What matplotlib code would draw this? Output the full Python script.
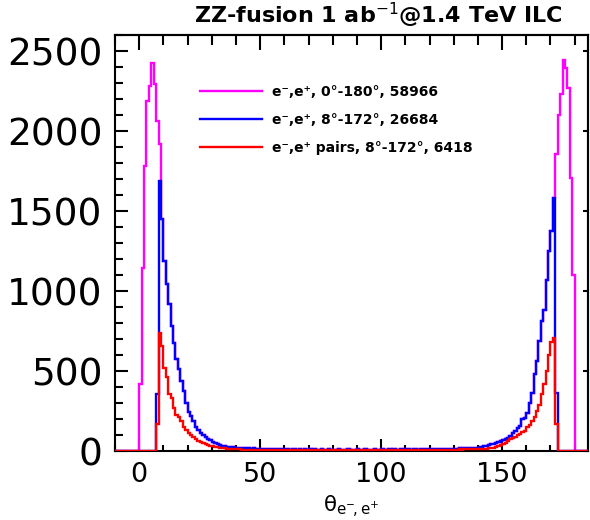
import numpy as np
import matplotlib
matplotlib.use("Agg")
import matplotlib.pyplot as plt
from matplotlib.ticker import MultipleLocator, NullLocator
from matplotlib.lines import Line2D

# ---------------- data (1 degree bins, 0..180 deg) ----------------
bin_width = 1.0
theta_min, theta_max = 0, 180
pad_bins = 10          # empty bins drawn outside 0-180 (baseline of histograms)

# e-,e+ 0-180 deg: forward/backward peaks (bins 0-8 and 172-179); elsewhere equal to the 8-172 sample
magenta_left = [419, 1144, 1781, 2187, 2281, 2427, 2294, 2062, 1919]
magenta_right = [1858, 2100, 2231, 2444, 2396, 2271, 1708, 1100]

# e-,e+ 8-172 deg, bins 7..40
blue_rise = [356, 1687, 1448, 1187, 1042, 917, 781, 677, 573, 510, 440, 375, 300,
             245, 218, 188, 152, 132, 114, 102, 88, 75, 67, 58, 48, 42, 37, 33,
             30, 28, 25, 23, 21, 20]
# bins 41..139
blue_mid = [19, 18, 17, 18, 16, 15, 16, 14, 15, 13,
            14, 12, 13, 12, 11, 12, 10, 11, 12, 10,
            11, 9, 10, 11, 9, 10, 9, 10, 8, 10,
            9, 10, 8, 9, 10, 9, 8, 10, 9, 8,
            9, 10, 8, 9, 8, 10, 9, 8, 9, 10,
            8, 9, 10, 8, 9, 9, 10, 8, 9, 10,
            9, 8, 10, 9, 10, 9, 8, 10, 9, 10,
            10, 9, 11, 10, 9, 11, 10, 12, 11, 10,
            12, 11, 13, 12, 12, 14, 13, 14, 15, 14,
            15, 16, 15, 17, 16, 18, 17, 19, 20]
# bins 140..172
blue_fall = [21, 27, 31, 33, 37, 42, 46, 52, 56, 62, 69, 73, 83, 94, 115, 125,
             146, 156, 198, 208, 240, 302, 360, 480, 560, 690, 810, 880, 1070,
             1250, 1375, 1583, 364]

# e-,e+ pairs 8-172 deg, bins 7..40
red_rise = [167, 740, 655, 520, 460, 355, 330, 270, 225, 210, 185, 150, 130, 112,
            98, 85, 73, 62, 55, 48, 42, 38, 34, 30, 27, 24, 21, 19, 17, 15, 14,
            13, 12, 11]
# bins 41..139
red_mid = [10, 9, 9, 8, 8, 7, 8, 7, 6, 7,
           6, 7, 5, 6, 6, 5, 6, 5, 6, 5,
           5, 6, 5, 4, 5, 6, 5, 4, 5, 5,
           4, 5, 5, 4, 6, 5, 4, 5, 5, 4,
           5, 4, 5, 5, 4, 5, 6, 4, 5, 5,
           4, 5, 5, 6, 4, 5, 5, 4, 5, 6,
           5, 4, 5, 5, 6, 5, 4, 5, 6, 5,
           5, 6, 5, 6, 5, 6, 7, 6, 6, 7,
           7, 6, 7, 8, 7, 8, 8, 9, 8, 9,
           9, 10, 9, 10, 11, 10, 11, 12, 11]
# bins 140..172
red_fall = [10, 12, 13, 15, 17, 19, 21, 25, 30, 35, 45, 52, 65, 75, 83, 90, 100,
            108, 118, 128, 150, 165, 185, 215, 250, 290, 355, 420, 500, 600, 680,
            708, 167]

legend_labels = ["e\u207b,e\u207a, 0\u00b0-180\u00b0, 58966",
                 "e\u207b,e\u207a, 8\u00b0-172\u00b0, 26684",
                 "e\u207b,e\u207a pairs, 8\u00b0-172\u00b0, 6418"]
title_text = r"ZZ-fusion 1 ab$^{-1}$@1.4 TeV ILC"
xlabel_text = r"$\mathrm{\theta}_{\mathrm{e}^{-}\!,\mathrm{e}^{+}}$"

x_ticks = [0, 50, 100, 150]
y_ticks = [0, 500, 1000, 1500, 2000, 2500]

# ---------------- assemble histograms ----------------
nb = int((theta_max - theta_min) / bin_width)
blue = np.zeros(nb)
blue[7:41] = blue_rise
blue[41:140] = blue_mid
blue[140:173] = blue_fall
red = np.zeros(nb)
red[7:41] = red_rise
red[41:140] = red_mid
red[140:173] = red_fall
magenta = blue.copy()
magenta[0:len(magenta_left)] = magenta_left
magenta[nb - len(magenta_right):] = magenta_right

edges = np.arange(theta_min - pad_bins, theta_max + pad_bins + 1, bin_width)
def padded(v):
    return np.concatenate([np.zeros(pad_bins), v, np.zeros(pad_bins)])

# ---------------- figure ----------------
W, H = 590, 520
fig = plt.figure(figsize=(W / 100, H / 100), dpi=100)
ax = fig.add_axes([115 / W, (H - 451) / H, (588 - 115) / W, (451 - 35) / H])

lw = 1.7
cols = ["#ff00ff", "#0000ff", "#ff0000"]
for vals, c in zip([magenta, blue, red], cols):
    ax.stairs(padded(vals), edges, color=c, lw=lw, zorder=3)

ax.set_xlim(-10, 185.5)
ax.set_ylim(0, 2600)

ax.set_xticks(x_ticks)
ax.set_yticks(y_ticks)
ax.xaxis.set_minor_locator(MultipleLocator(10))
ax.yaxis.set_minor_locator(MultipleLocator(100))

for s in ax.spines.values():
    s.set_linewidth(1.5)

ax.tick_params(axis="both", which="both", direction="in", top=False, right=False,
               width=1.5, color="black")
ax.tick_params(axis="x", which="major", length=9, labelsize=19.5, pad=8)
ax.tick_params(axis="x", which="minor", length=4.5)
ax.tick_params(axis="y", which="major", length=9.5, labelsize=27, pad=9)
ax.tick_params(axis="y", which="minor", length=5.5)

secx = ax.secondary_xaxis("top")
secx.set_xticks(x_ticks)
secx.xaxis.set_minor_locator(MultipleLocator(10))
secx.tick_params(axis="x", which="major", direction="in", length=11, width=1.5,
                 labeltop=False)
secx.tick_params(axis="x", which="minor", direction="in", length=7, width=1.5)
secx.spines["top"].set_linewidth(1.5)

secy = ax.secondary_yaxis("right")
secy.set_yticks(y_ticks)
secy.yaxis.set_minor_locator(NullLocator())
secy.tick_params(axis="y", which="major", direction="in", length=3.5, width=1.5,
                 labelright=False)
secy.spines["right"].set_linewidth(1.5)

ax.set_xlabel(xlabel_text, fontsize=15.5)
ax.xaxis.set_label_coords(0.5, -(494 - 451) / (451 - 35))

fig.text(378 / W, 1 - 23 / H, title_text, ha="center", va="baseline",
         fontsize=16, fontweight="bold")

handles = [Line2D([], [], color=c, lw=lw) for c in cols]
ax.legend(handles, legend_labels, loc="upper left",
          bbox_to_anchor=(200 / W, 1 - 85 / H), bbox_transform=fig.transFigure,
          frameon=False, borderpad=0, borderaxespad=0,
          handlelength=4.45, handletextpad=0.7, labelspacing=1.0,
          prop={"weight": "bold", "size": 10})

fig.savefig("out.png", dpi=100)
